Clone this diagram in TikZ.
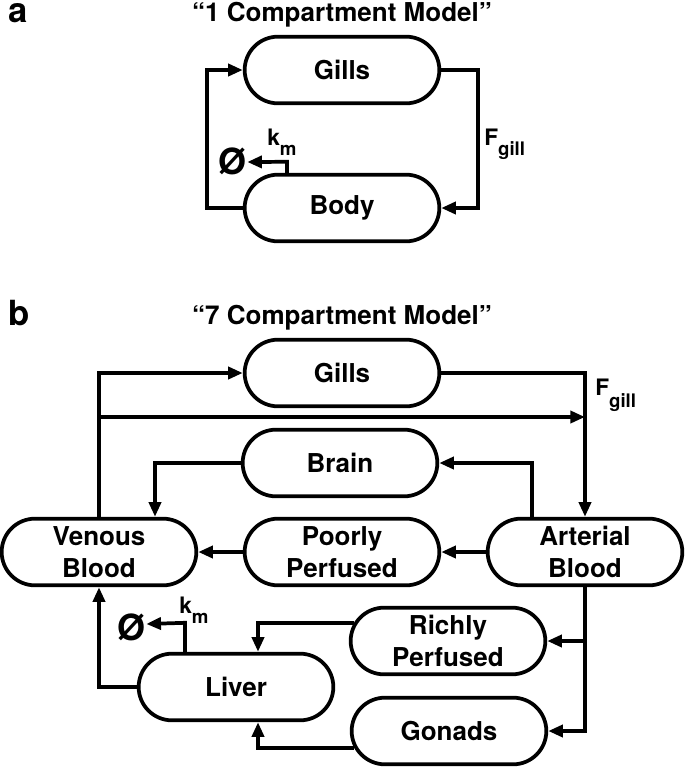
\documentclass[tikz,border=0pt]{standalone}
\usepackage{fontspec}
\setmainfont{TeX Gyre Heros}
\usetikzlibrary{arrows.meta,calc}
\newcommand\boxfont{\fontsize{19.5}{24}\selectfont\bfseries}
\newcommand\subfont{\fontsize{14}{14}\selectfont\bfseries}
\begin{document}
\begin{tikzpicture}[x=0.75pt,y=-0.75pt,
  box/.style={draw,line width=2.8pt,rounded corners=25pt,minimum width=146pt,
              minimum height=50pt,inner sep=0pt,align=center,font=\boxfont},
  conn/.style={line width=2.8pt},
  arr/.style={conn,-{Triangle[length=11pt,width=9pt]}},
  panel/.style={anchor=base west,font=\fontsize{26}{30}\selectfont\bfseries,inner sep=0pt},
  title/.style={anchor=base,font=\boxfont,inner sep=0pt},
  rate/.style={anchor=base west,font=\fontsize{17}{20}\selectfont\bfseries,inner sep=0pt},
  nullset/.style={font=\fontsize{27}{27}\selectfont\bfseries,inner sep=0pt}]
\useasboundingbox (0,0) rectangle (685,768);

% ---------- panel a ----------
\node[panel] (la) at (8,22) {a};
\node[title] (ta) at (342,21) {“1 Compartment Model”};
\node[box] (gillsA) at (342,70) {Gills};
\node[box] (bodyA) at (342,208) {Body};
\node[rate] (fA) at (484,145) {F\raisebox{-8pt}{\subfont gill}};
\node[rate] (kA) at (267,145) {k\raisebox{-8pt}{\subfont m}};
\node[nullset] (nA) at (233,161) {Ø};

\draw[arr] (bodyA.west) -- ++(-36,0) |- (gillsA.west);
\draw[arr] (gillsA.east) -- ++(37,0) |- (bodyA.east);
\draw[arr] ($(bodyA.north)+(-55,0)$) -- ++(0,-11) -- (nA.east |- 0,162);

% ---------- panel b ----------
\node[panel] (lb) at (8,325) {b};
\node[title] (tb) at (342,324) {“7 Compartment Model”};
\node[box] (gillsB) at (342,373) {Gills};
\node[box] (brain) at (340,463) {Brain};
\node[box] (venous) at (99,552) {Venous\\Blood};
\node[box] (poorly) at (342,552) {Poorly\\Perfused};
\node[box] (arterial) at (585,552) {Arterial\\Blood};
\node[box] (richly) at (448,641) {Richly\\Perfused};
\node[box] (liver) at (236,687) {Liver};
\node[box] (gonads) at (449,731) {Gonads};
\node[rate] (fB) at (595,395) {F\raisebox{-9pt}{\subfont gill}};
\node[rate] (kB) at (179,613) {k\raisebox{-8pt}{\subfont m}};
\node[nullset] (nB) at (132,627) {Ø};
\coordinate (bypass) at (0,417);

\draw[arr] (venous.north) |- (gillsB.west);
\draw[arr] (venous.north |- bypass) -- (arterial.north |- bypass);
\draw[arr] (gillsB.east) -| (arterial.north);
\draw[arr] ($(arterial.north)+(-53,0)$) |- (brain.east);
\draw[arr] (brain.west) -| ($(venous.north)+(56,0)$);
\draw[arr] (arterial.west) -- (poorly.east);
\draw[arr] (poorly.west) -- (venous.east);
\draw[arr] (arterial.south) |- (gonads.east);
\draw[arr] (arterial.south |- richly.east) -- (richly.east);
\draw[arr] ($(richly.west)+(5,-18)$) -| ($(liver.north)+(22,0)$);
\draw[arr] ($(gonads.west)+(4,17)$) -| ($(liver.south)+(22,0)$);
\draw[arr] (liver.west) -| (venous.south);
\draw[arr] ($(liver.north)+(-51,0)$) -- ++(0,-29) -- (nB.east |- 0,624);
\end{tikzpicture}
\end{document}
